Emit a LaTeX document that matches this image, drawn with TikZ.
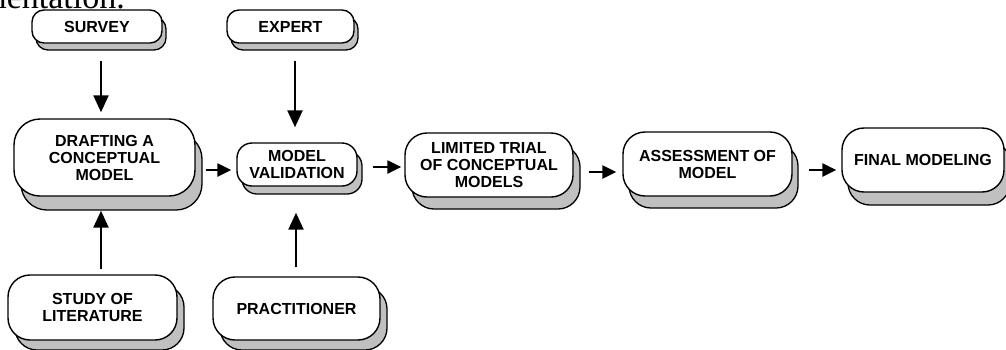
\documentclass[tikz,border=0pt]{standalone}
\usepackage{fontspec}
\setmainfont{Liberation Sans}
\newfontfamily\serifpart{Liberation Serif}
\usetikzlibrary{shadows,arrows.meta}
\definecolor{shgray}{RGB}{192,192,192}
\tikzset{
  bx/.style={draw=black, line width=1.4pt, fill=white, align=center, inner sep=0pt,
    font=\fontsize{16}{17}\selectfont\bfseries},
  sh/.style 2 args={copy shadow={shadow xshift=#1, shadow yshift=#2, fill=shgray, draw=black, line width=1.3pt}},
  arr/.style={line width=2.4pt, -{Triangle[length=17pt,width=15pt]}},
  harr/.style={line width=2.4pt, -{Triangle[length=14pt,width=13pt]}}
}
\begin{document}
\begin{tikzpicture}[x=1pt,y=-1pt]
\useasboundingbox (0,0) rectangle (1006,349);
\begin{scope}
\clip (0,0) rectangle (1006,349);
\node[anchor=base east, inner sep=0pt, font=\serifpart\fontsize{34}{34}\selectfont] (toptext) at (125,8) {mentation.};

\node[bx, minimum width=130pt, minimum height=33pt, rounded corners=12pt, sh={4pt}{-7pt}] (survey) at (97,26.5) {SURVEY};
\node[bx, minimum width=127pt, minimum height=33pt, rounded corners=12pt, sh={4pt}{-7pt}] (expert) at (290.5,26.5) {EXPERT};
\node[bx, minimum width=181pt, minimum height=77pt, rounded corners=26pt, sh={7pt}{-14pt}] (draft) at (104.5,157.5) {DRAFTING A\\CONCEPTUAL\\MODEL};
\node[bx, minimum width=120pt, minimum height=43pt, rounded corners=15pt, sh={5pt}{-8pt}] (val) at (297,164.5) {MODEL\\VALIDATION};
\node[bx, minimum width=169pt, minimum height=65pt, rounded corners=22pt, sh={7pt}{-10pt}] (study) at (92.5,307.5) {STUDY OF\\LITERATURE};
\node[bx, minimum width=167pt, minimum height=63pt, rounded corners=22pt, sh={7pt}{-10pt}] (pract) at (296.5,308.5) {PRACTITIONER};
\node[bx, minimum width=168pt, minimum height=64pt, rounded corners=22pt, sh={7pt}{-12pt}] (lim) at (489,165) {LIMITED TRIAL\\OF CONCEPTUAL\\MODELS};
\node[bx, minimum width=169pt, minimum height=64pt, rounded corners=22pt, sh={6pt}{-12pt}] (assess) at (707.5,164) {ASSESSMENT OF\\MODEL};
\node[bx, minimum width=162pt, minimum height=64pt, rounded corners=22pt, sh={6pt}{-13pt}] (final) at (923,160) {FINAL MODELING};

\draw[arr] ([xshift=4pt,yshift=-17pt]survey.south) -- ([xshift=-3.5pt,yshift=6pt]draft.north);
\draw[arr] ([xshift=4.5pt,yshift=-17pt]expert.south) -- ([xshift=-2pt,yshift=15pt]val.north);
\draw[arr] ([xshift=8.5pt,yshift=5pt]study.north) -- ([xshift=-3.5pt,yshift=-14pt]draft.south);
\draw[arr] ([xshift=-0.5pt,yshift=9pt]pract.north) -- ([xshift=-1pt,yshift=-26pt]val.south);
\draw[harr] ([xshift=10pt,yshift=-12.5pt]draft.east) -- ([xshift=-5pt,yshift=-5.5pt]val.west);
\draw[harr] ([xshift=15pt,yshift=-2.5pt]val.east) -- ([xshift=-3pt,yshift=-2pt]lim.west);
\draw[harr] ([xshift=15pt,yshift=-7pt]lim.east) -- ([xshift=-6pt,yshift=-8pt]assess.west);
\draw[harr] ([xshift=16pt,yshift=-6pt]assess.east) -- ([xshift=-5pt,yshift=-10pt]final.west);
\end{scope}
\end{tikzpicture}
\end{document}
